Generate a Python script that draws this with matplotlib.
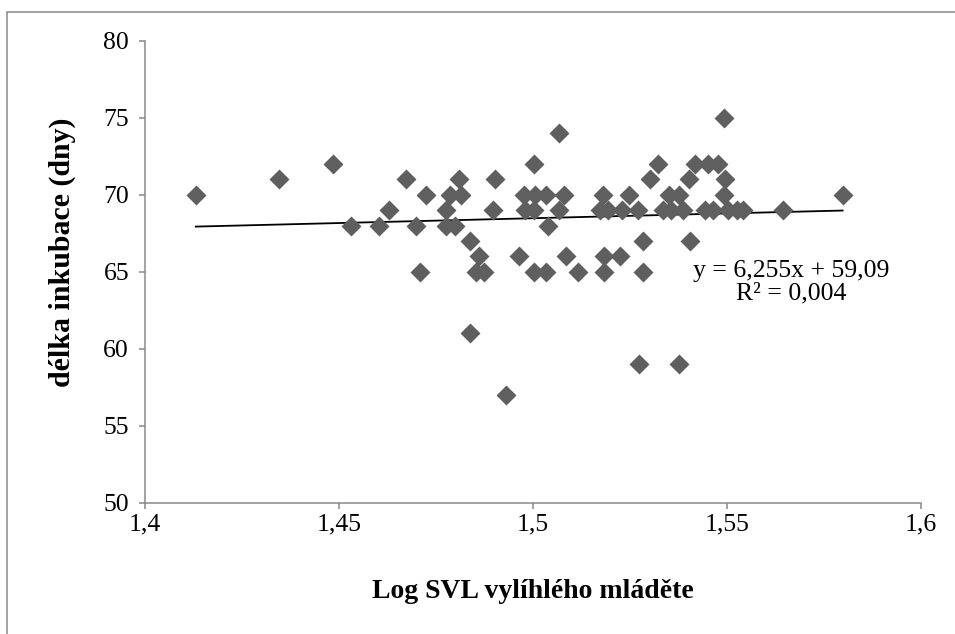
import numpy as np
import matplotlib
matplotlib.use("Agg")
import matplotlib.pyplot as plt
from matplotlib.patches import Rectangle

# log SVL of hatchlings and incubation length (days)
log_svl = [
    1.4131, 1.4345, 1.4485, 1.4532, 1.4604, 1.4628, 1.4673, 1.4698, 1.4709, 1.4723,
    1.4777, 1.4777, 1.4786, 1.4799, 1.4809, 1.4814, 1.4838, 1.4838, 1.4861, 1.4853,
    1.4874, 1.4902, 1.4898, 1.4930, 1.4965, 1.5003, 1.5068, 1.4977, 1.5005, 1.5034,
    1.5081, 1.4979, 1.5003, 1.5068, 1.5038, 1.5003, 1.5034, 1.5086, 1.5115, 1.5181,
    1.5173, 1.5194, 1.5248, 1.5229, 1.5271, 1.5323, 1.5302, 1.5351, 1.5375, 1.5336,
    1.5356, 1.5387, 1.5402, 1.5284, 1.5405, 1.5183, 1.5224, 1.5183, 1.5284, 1.5274,
    1.5376, 1.5418, 1.5452, 1.5477, 1.5493, 1.5495, 1.5491, 1.5443, 1.5465, 1.5503,
    1.5525, 1.5542, 1.5644, 1.5798,
]
incubation = [
    70, 71, 72, 68, 68, 69, 71, 68, 65, 70,
    69, 68, 70, 68, 71, 70, 67, 61, 66, 65,
    65, 71, 69, 57, 66, 72, 74, 70, 70, 70,
    70, 69, 69, 69, 68, 65, 65, 66, 65, 70,
    69, 69, 70, 69, 69, 72, 71, 70, 70, 69,
    69, 69, 71, 67, 67, 66, 66, 65, 65, 59,
    59, 72, 72, 72, 75, 71, 70, 69, 69, 69,
    69, 69, 69, 70,
]

# linear trend as reported
slope = 6.255
intercept = 59.09
r_squared = 0.004

x_ticks = [1.4, 1.45, 1.5, 1.55, 1.6]
x_tick_labels = ["1,4", "1,45", "1,5", "1,55", "1,6"]
y_ticks = [50, 55, 60, 65, 70, 75, 80]

plt.rcParams["font.family"] = ["Liberation Serif", "DejaVu Serif"]
axis_gray = "#898989"

fig = plt.figure(figsize=(9.55, 6.34), dpi=100)
W, H = 955, 634

# chart border (only left and top edges fall inside the image)
fig.patches.append(Rectangle((7 / W, -0.1), 1.2, 1.1 - 12 / H, transform=fig.transFigure,
                             fill=False, edgecolor=axis_gray, linewidth=1.1))

ax = fig.add_axes([145 / W, 1 - 502.7 / H, 776 / W, 462 / H])

x = np.array(log_svl)
y = np.array(incubation)
ax.plot(x, y, ls="none", marker="D", ms=10, color="#5f5f5f", mec="none", zorder=3)

xs = np.array([x.min(), x.max()])
ax.plot(xs, slope * xs + intercept, color="black", lw=1.3, zorder=2)

ax.text(1.5665, 64.3,
        "y = {:.3f}x + {:.2f}\nR² = {:.3f}".format(slope, intercept, r_squared).replace(".", ","),
        ha="center", va="center", multialignment="center", fontsize=18.5, linespacing=1.0)

ax.set_xlim(1.4, 1.6)
ax.set_ylim(50, 80)
ax.set_xticks(x_ticks)
ax.set_xticklabels(x_tick_labels)
ax.set_yticks(y_ticks)

for side in ["top", "right"]:
    ax.spines[side].set_visible(False)
for side in ["left", "bottom"]:
    ax.spines[side].set_color(axis_gray)
    ax.spines[side].set_linewidth(1.1)

ax.tick_params(axis="both", colors=axis_gray, labelcolor="black", labelsize=18.5,
               length=4.5, width=1.1, direction="out")
ax.tick_params(axis="y", pad=7)
ax.tick_params(axis="x", pad=3)

ax.set_xlabel("Log SVL vylíhlého mláděte", fontsize=20, fontweight="bold")
ax.xaxis.set_label_coords(0.5, (502.7 - 592) / 462)
ax.xaxis.label.set_va("center")
ax.set_ylabel("délka inkubace (dny)", fontsize=21.5, fontweight="bold")
ax.yaxis.set_label_coords((62 - 145) / 776, (502.7 - 252) / 462)
ax.yaxis.label.set_va("center")

fig.savefig("out.png", dpi=100)
